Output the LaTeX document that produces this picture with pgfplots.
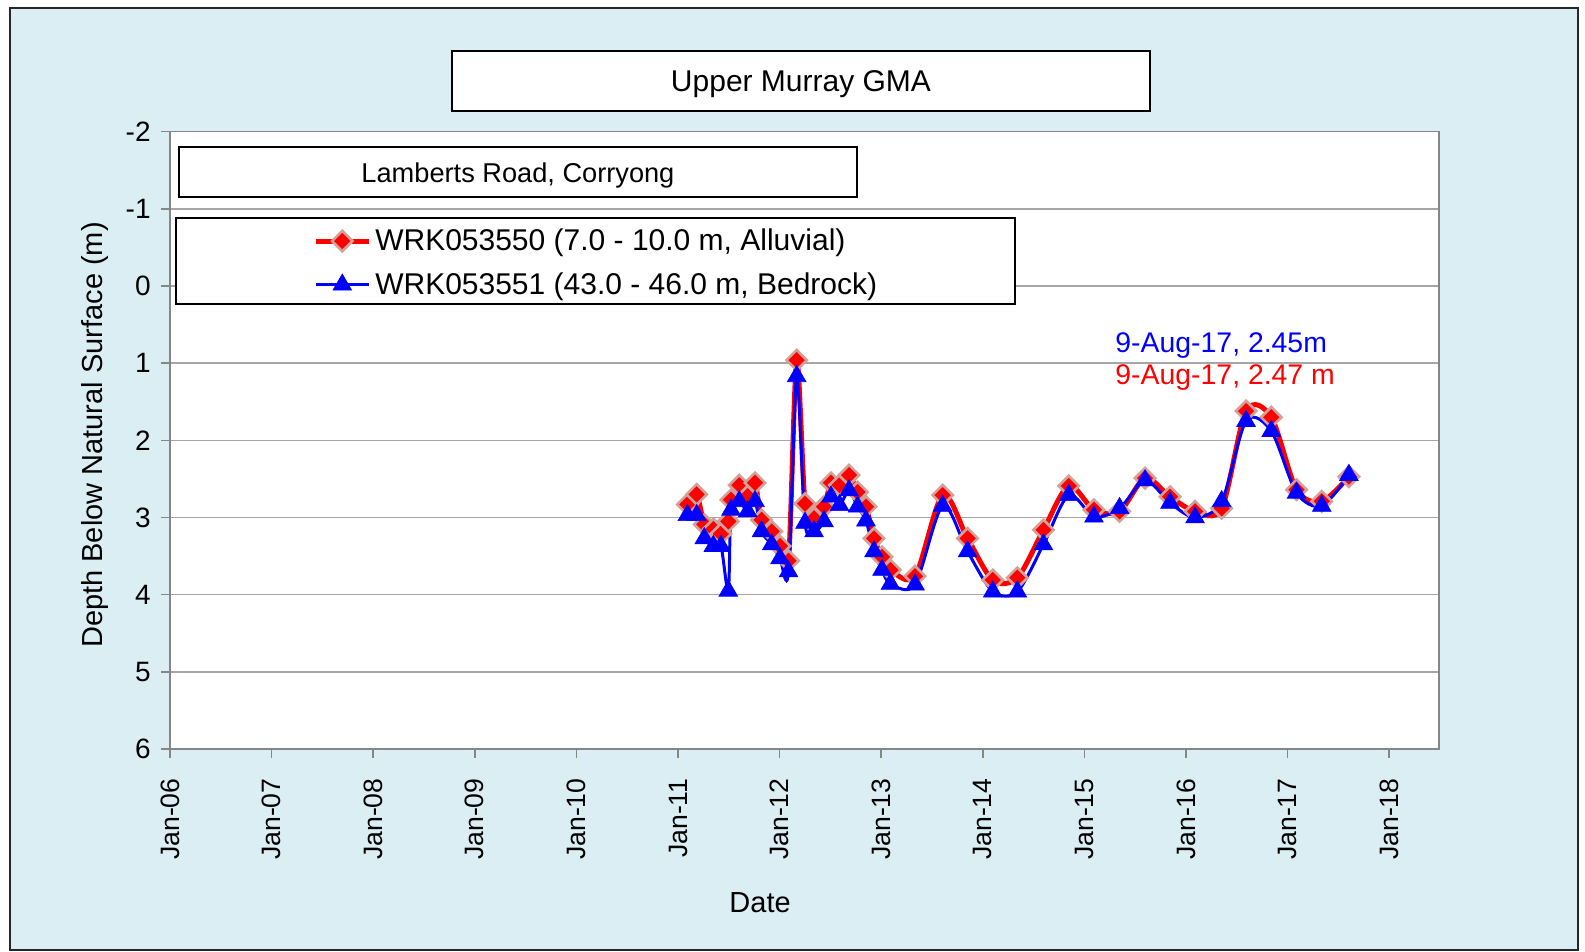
\documentclass[border=0pt]{standalone}
\usepackage{fontspec}
\setmainfont{Liberation Sans}
\usepackage{pgfplots}
\pgfplotsset{compat=1.18}
\usepackage{pgfplotstable}
\definecolor{bgblue}{HTML}{DBEEF4}
\definecolor{axgray}{HTML}{868686}
\definecolor{gridgray}{HTML}{A6A6A6}
\definecolor{halo}{HTML}{D4A09A}

\pgfplotstableread{
t        red   blue
2011.092 2.83  2.97
2011.184 2.70  2.97
2011.259 3.09  3.27
2011.348 3.15  3.37
2011.423 3.21  3.37
2011.495 3.05  3.95
2011.522 2.77  2.90
2011.603 2.58  2.79
2011.686 2.72  2.92
2011.758 2.55  2.79
2011.822 3.03  3.18
2011.922 3.18  3.35
2012.004 3.37  3.53
2012.088 3.56  3.70
2012.168 0.96  1.17
2012.250 2.82  3.07
2012.339 3.01  3.18
2012.437 2.86  3.05
2012.506 2.55  2.73
2012.590 2.58  2.84
2012.683 2.45  2.65
2012.767 2.67  2.86
2012.850 2.86  3.04
2012.929 3.27  3.44
2013.008 3.51  3.68
2013.091 3.68  3.86
2013.333 3.76  3.87
2013.605 2.71  2.85
2013.850 3.27  3.44
2014.098 3.81  3.96
2014.340 3.78  3.96
2014.597 3.16  3.35
2014.846 2.59  2.71
2015.094 2.90  2.99
2015.346 2.92  2.88
2015.597 2.49  2.52
2015.843 2.73  2.81
2016.089 2.92  3.00
2016.351 2.88  2.79
2016.591 1.62  1.75
2016.839 1.70  1.88
2017.088 2.64  2.68
2017.336 2.79  2.85
2017.603 2.47  2.45
}\data

\begin{document}
\begin{tikzpicture}
\begin{scope}[x=0.5pt,y=-0.5pt]
\useasboundingbox (0,0) rectangle (1585,952);
\fill[white] (0,0) rectangle (1585,952);
\draw[fill=bgblue, draw=black!85, line width=1pt] (10,8) rectangle (1578,950);
\end{scope}
\begin{axis}[
  at={(85pt,-374.5pt)}, anchor=south west,
  scale only axis, width=634.5pt, height=308.65pt,
  xmin=2006, xmax=2018.49, ymin=-2, ymax=6, y dir=reverse,
  axis background/.style={fill=white},
  axis line style={axgray, line width=0.75pt},
  ymajorgrids, grid style={gridgray, line width=0.75pt},
  xtick={2006,2007,2008,2009,2010,2011,2012,2013,2014,2015,2016,2017,2018},
  xticklabels={Jan-06,Jan-07,Jan-08,Jan-09,Jan-10,Jan-11,Jan-12,Jan-13,Jan-14,Jan-15,Jan-16,Jan-17,Jan-18},
  ytick={-2,-1,0,1,2,3,4,5,6},
  yticklabels={-2,-1,0,1,2,3,4,5,6},
  tick align=outside, tick pos=left, major tick length=4.5pt,
  tick style={axgray, line width=0.75pt},
  ticklabel style={font=\fontsize{13.3}{15}\selectfont, inner sep=0pt},
  xticklabel style={rotate=90, anchor=east},
  yticklabel style={anchor=east, font=\fontsize{14}{16}\selectfont},
  xticklabel shift=10pt, yticklabel shift=5pt,
  xlabel={Date}, ylabel={Depth Below Natural Surface (m)},
  label style={font=\fontsize{14.5}{17}\selectfont},
  xlabel style={at={(axis description cs:0.465,-0.2495)}, anchor=center},
  ylabel style={at={(axis description cs:-0.0595,0.5087)}, anchor=center},
  legend style={at={(axis description cs:0.1126,0.7875)}, anchor=west, draw=none, fill=none,
    font=\fontsize{15}{18}\selectfont, row sep=5.5pt, inner sep=0pt, nodes={inner sep=2pt}},
  legend cell align=left,
  legend image code/.code={\draw[mark repeat=2,mark phase=2] plot coordinates {(0pt,0pt) (13.25pt,0pt) (26.5pt,0pt)};},
]
\draw[fill=white, line width=1.4pt] (axis description cs:0.00709,0.9752) rectangle (axis description cs:0.5414,0.8942);
\node[font=\fontsize{13.6}{16}\selectfont] at (axis description cs:0.2742,0.9290) {Lamberts Road, Corryong};
\draw[fill=white, line width=0.75pt] (axis description cs:0.00473,0.8602) rectangle (axis description cs:0.6659,0.7209);
\addplot[color=red, line width=2.5pt, smooth, tension=0.5, mark=square*, mark size=3.6pt,
  mark options={rotate=45, fill=red, draw=halo, line width=1.3pt, solid}] table[x=t,y=red]{\data};
\addlegendentry{WRK053550 (7.0 - 10.0 m, Alluvial)}
\addplot[color=blue, line width=1.5pt, smooth, tension=0.5, mark=triangle*, mark size=5.4pt,
  mark options={fill=blue, draw=blue, line width=0.3pt, solid}] table[x=t,y=blue]{\data};
\addlegendentry{WRK053551 (43.0 - 46.0 m, Bedrock)}
\node[anchor=west, text=blue, font=\fontsize{14.2}{17}\selectfont, inner sep=0pt] at (axis description cs:0.7447,0.654) {9-Aug-17, 2.45m};
\node[anchor=west, text=red, font=\fontsize{14.2}{17}\selectfont, inner sep=0pt] at (axis description cs:0.7447,0.6015) {9-Aug-17, 2.47 m};
\end{axis}
\begin{scope}[x=0.5pt,y=-0.5pt]
\draw[fill=white, line width=1.35pt] (452,51) rectangle (1150,111);
\node[font=\fontsize{15}{18}\selectfont] at (801,84) {Upper Murray GMA};
\end{scope}
\end{tikzpicture}
\end{document}
